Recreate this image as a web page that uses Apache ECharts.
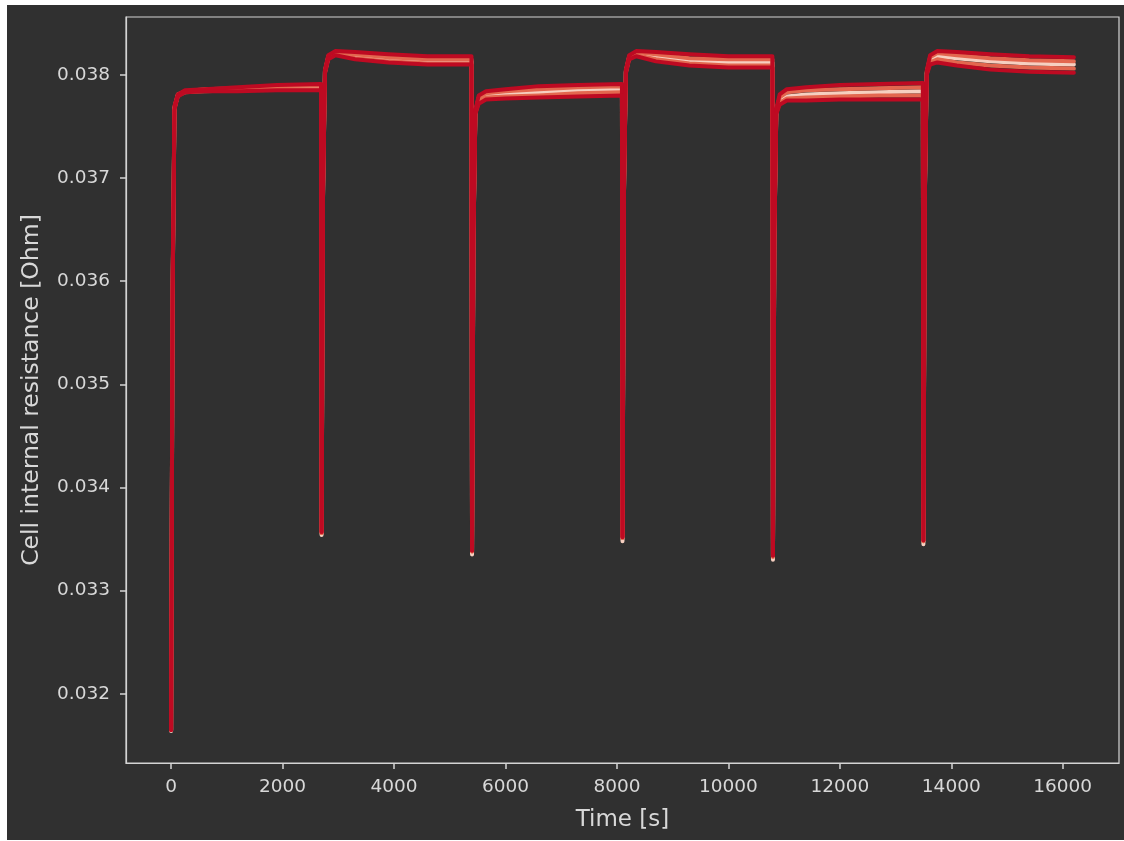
<!DOCTYPE html>
<html>
<head>
<meta charset="utf-8">
<script src="https://cdn.jsdelivr.net/npm/echarts@6/dist/echarts.min.js"></script>
<style>
  html, body { margin: 0; padding: 0; background: #ffffff; width: 1124px; height: 841px; overflow: hidden; }
  #chart { position: absolute; left: 7px; top: 5px; width: 1117px; height: 835px; }
</style>
</head>
<body>
<div id="chart"></div>
<script>
// Sample times [s] for six 2700 s load steps
const times = [
  0, 25, 60, 120, 250, 600, 1200, 1900, 2690,
  2700, 2725, 2760, 2820, 2950, 3300, 3900, 4600, 5390,
  5400, 5425, 5460, 5520, 5650, 6000, 6600, 7300, 8090,
  8100, 8125, 8160, 8220, 8350, 8700, 9300, 10000, 10790,
  10800, 10825, 10860, 10920, 11050, 11400, 12000, 12700, 13490,
  13500, 13525, 13560, 13620, 13750, 14100, 14700, 15400, 16200
];

// Internal resistance [Ohm] of each simulated cell
const cellTop = [
  0.03165, 0.0359, 0.03770, 0.03781, 0.03785, 0.03786, 0.03788, 0.03790, 0.03791,
  0.03357, 0.0369, 0.03805, 0.03819, 0.03823, 0.03822, 0.03820, 0.03818, 0.03818,
  0.03339, 0.0365, 0.03766, 0.03780, 0.03784, 0.03786, 0.03789, 0.03790, 0.03791,
  0.03352, 0.0369, 0.03805, 0.03819, 0.03823, 0.03822, 0.03820, 0.03818, 0.03818,
  0.03334, 0.0365, 0.03767, 0.03781, 0.03786, 0.03788, 0.03790, 0.03791, 0.03792,
  0.03349, 0.0369, 0.03804, 0.03819, 0.03823, 0.03822, 0.03820, 0.03818, 0.03817
];
const cellUpper = [
  0.03165, 0.0359, 0.03769, 0.03781, 0.03784, 0.03786, 0.03787, 0.03789, 0.03790,
  0.03356, 0.0369, 0.03804, 0.03818, 0.03822, 0.03820, 0.03817, 0.03815, 0.03815,
  0.03338, 0.0365, 0.03765, 0.03778, 0.03782, 0.03784, 0.03786, 0.03788, 0.03789,
  0.03351, 0.0369, 0.03804, 0.03818, 0.03822, 0.03820, 0.03816, 0.03815, 0.03815,
  0.03333, 0.0365, 0.03766, 0.03778, 0.03783, 0.03785, 0.03786, 0.03787, 0.03788,
  0.03348, 0.0369, 0.03803, 0.03817, 0.03821, 0.03819, 0.03816, 0.03814, 0.03813
];
const cellMiddle = [
  0.03164, 0.0358, 0.03768, 0.03780, 0.03784, 0.03785, 0.03786, 0.03787, 0.03788,
  0.03354, 0.0368, 0.03803, 0.03817, 0.03821, 0.03818, 0.03815, 0.03813, 0.03813,
  0.03335, 0.0364, 0.03764, 0.03776, 0.03780, 0.03781, 0.03783, 0.03785, 0.03786,
  0.03348, 0.0368, 0.03803, 0.03817, 0.03821, 0.03818, 0.03814, 0.03812, 0.03812,
  0.03330, 0.0364, 0.03764, 0.03775, 0.03779, 0.03781, 0.03782, 0.03783, 0.03784,
  0.03345, 0.0368, 0.03802, 0.03815, 0.03818, 0.03816, 0.03813, 0.03811, 0.03810
];
const cellLower = [
  0.03165, 0.0358, 0.03767, 0.03780, 0.03783, 0.03784, 0.03785, 0.03786, 0.03786,
  0.03356, 0.0368, 0.03802, 0.03816, 0.03820, 0.03816, 0.03813, 0.03811, 0.03811,
  0.03338, 0.0364, 0.03763, 0.03774, 0.03778, 0.03779, 0.03780, 0.03782, 0.03783,
  0.03351, 0.0368, 0.03802, 0.03816, 0.03819, 0.03815, 0.03811, 0.03809, 0.03809,
  0.03333, 0.0364, 0.03763, 0.03773, 0.03777, 0.03778, 0.03779, 0.03780, 0.03780,
  0.03348, 0.0368, 0.03801, 0.03812, 0.03815, 0.03812, 0.03809, 0.03807, 0.03806
];
const cellBottom = [
  0.03165, 0.0358, 0.03766, 0.03779, 0.03783, 0.03784, 0.03784, 0.03785, 0.03785,
  0.03357, 0.0368, 0.03801, 0.03815, 0.03819, 0.03815, 0.03812, 0.03810, 0.03810,
  0.03339, 0.0364, 0.03762, 0.03772, 0.03776, 0.03777, 0.03778, 0.03779, 0.03780,
  0.03352, 0.0368, 0.03801, 0.03815, 0.03818, 0.03813, 0.03809, 0.03807, 0.03807,
  0.03334, 0.0364, 0.03762, 0.03771, 0.03775, 0.03775, 0.03776, 0.03776, 0.03776,
  0.03349, 0.0368, 0.03800, 0.03810, 0.03812, 0.03809, 0.03805, 0.03803, 0.03802
];

// Tick positions
const xTicks = [0, 2000, 4000, 6000, 8000, 10000, 12000, 14000, 16000];
const yTicks = [0.032, 0.033, 0.034, 0.035, 0.036, 0.037, 0.038];

// Drawn light-to-dark so the darkest traces lie on top
const cells = [
  { values: cellMiddle, color: '#f6cfc0' },
  { values: cellUpper,  color: '#e3674f' },
  { values: cellLower,  color: '#e3674f' },
  { values: cellTop,    color: '#be0a22' },
  { values: cellBottom, color: '#be0a22' }
];

const axisColor = '#d4d4d4';
const textColor = '#d8d8d8';
const font = 'DejaVu Sans';

const chart = echarts.init(document.getElementById('chart'), null, { renderer: 'canvas' });

chart.setOption({
  backgroundColor: '#303030',
  animation: false,
  grid: {
    left: 119, right: 5, top: 12, bottom: 77,
    show: true, borderColor: axisColor, borderWidth: 1.2, backgroundColor: 'transparent'
  },
  xAxis: {
    type: 'value',
    min: -810, max: 17010,
    name: 'Time [s]',
    nameLocation: 'middle',
    nameGap: 46,
    nameTextStyle: { color: textColor, fontFamily: font, fontSize: 23 },
    splitLine: { show: false },
    axisLine: { show: true, onZero: false, lineStyle: { color: axisColor, width: 1.2 } },
    axisTick: { show: true, inside: false, length: 6, lineStyle: { color: axisColor, width: 1.5 }, customValues: xTicks },
    axisLabel: {
      color: textColor, fontFamily: font, fontSize: 18.5, margin: 15,
      customValues: xTicks,
      formatter: v => String(v)
    }
  },
  yAxis: {
    type: 'value',
    min: 0.03133, max: 0.03856,
    name: 'Cell internal resistance [Ohm]',
    nameLocation: 'middle',
    nameGap: 82,
    nameRotate: 90,
    nameTextStyle: { color: textColor, fontFamily: font, fontSize: 23.5 },
    splitLine: { show: false },
    axisLine: { show: true, onZero: false, lineStyle: { color: axisColor, width: 1.2 } },
    axisTick: { show: true, inside: false, length: 6, lineStyle: { color: axisColor, width: 1.5 }, customValues: yTicks },
    axisLabel: {
      color: textColor, fontFamily: font, fontSize: 18.5, margin: 16,
      customValues: yTicks,
      formatter: v => v.toFixed(3)
    }
  },
  series: cells.map(c => ({
    type: 'line',
    data: times.map((t, i) => [t, c.values[i]]),
    showSymbol: false,
    symbol: 'none',
    lineStyle: { color: c.color, width: 4, join: 'round', cap: 'round' },
    itemStyle: { color: c.color },
    emphasis: { disabled: true }
  }))
});
</script>
</body>
</html>
